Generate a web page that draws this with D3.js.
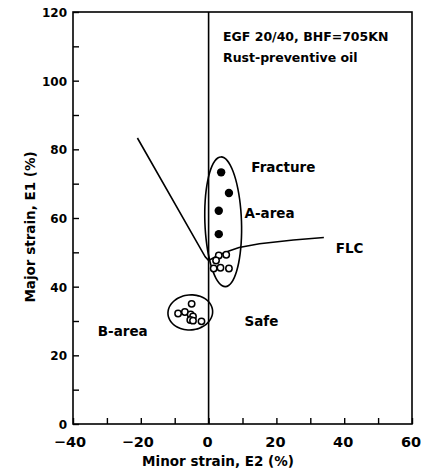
<!DOCTYPE html>
<html>
<head>
<meta charset="utf-8">
<script src="https://cdn.jsdelivr.net/npm/d3@7"></script>
<style>
  body { margin: 0; background: #fff; }
  text { font-family: "DejaVu Sans", sans-serif; font-weight: bold; fill: #000; }
</style>
</head>
<body>
<div id="chart"></div>
<script>
// data (minor strain E2 %, major strain E1 %)
var fractureE2 = [3.7, 6.0, 3.0, 3.0];
var fractureE1 = [73.3, 67.3, 62.1, 55.3];

var safeAE2 = [3.0, 5.2, 2.2, 1.5, 3.5, 6.0];
var safeAE1 = [49.1, 49.3, 47.6, 45.3, 45.5, 45.3];

var safeBE2 = [-9.0, -5.0, -7.0, -5.3, -4.6, -5.4, -4.6, -2.1];
var safeBE1 = [32.2, 35.0, 32.6, 31.9, 31.3, 30.3, 30.1, 29.9];

var flcE2 = [-21, -1, 0, 3, 6, 9, 15, 25, 34];
var flcE1 = [83.3, 48.7, 47.6, 49.2, 50.4, 51.4, 52.5, 53.6, 54.3];

// area outlines: centre, half widths (data units), tilt in degrees
var areaNames = ["A", "B"];
var areaCx = [4.3, -5.4];
var areaCy = [58.9, 32.5];
var areaRx = [5.4, 6.6];
var areaRy = [18.9, 5.1];
var areaTilt = [-2, -5];

var xTicks = [-40, -20, 0, 20, 40, 60];
var yTicks = [0, 20, 40, 60, 80, 100, 120];

var labelText = ["Fracture", "A-area", "FLC", "Safe", "B-area"];
var labelE2 = [12.6, 10.6, 37.5, 10.6, -32.7];
var labelE1 = [73.3, 60.0, 49.8, 28.4, 25.5];

const width = 424, height = 475;
const m_left = 73, m_right = 412, m_top = 12, m_bottom = 424;

var svg = d3.select("#chart").append("svg")
  .attr("width", width)
  .attr("height", height);

var x = d3.scaleLinear().domain([-40, 60]).range([m_left, m_right]);
var y = d3.scaleLinear().domain([0, 120]).range([m_bottom, m_top]);

// frame
svg.append("rect")
  .attr("x", m_left).attr("y", m_top)
  .attr("width", m_right - m_left).attr("height", m_bottom - m_top)
  .style("fill", "none").style("stroke", "#000").style("stroke-width", 1.6);

// inward ticks every 10, labels every 20
var xAxis = svg.append("g")
  .attr("transform", "translate(0," + m_bottom + ")")
  .call(d3.axisBottom(x).tickValues(d3.range(-40, 61, 10)).tickSize(-6).tickFormat(""));
xAxis.select(".domain").remove();
xAxis.selectAll("line").style("stroke-width", 1.4);

var yAxis = svg.append("g")
  .attr("transform", "translate(" + m_left + ",0)")
  .call(d3.axisLeft(y).tickValues(d3.range(0, 121, 10)).tickSize(-6).tickFormat(""));
yAxis.select(".domain").remove();
yAxis.selectAll("line").style("stroke-width", 1.4);

svg.selectAll(".xlab").data(xTicks).enter().append("text")
  .attr("x", d => x(d) - (d < 0 ? 3 : 1))
  .attr("y", 447)
  .attr("text-anchor", "middle")
  .style("font-size", "14.5px")
  .text(d => d < 0 ? "\u2212" + Math.abs(d) : d);

svg.selectAll(".ylab").data(yTicks).enter().append("text")
  .attr("x", m_left - 6)
  .attr("y", d => y(d) + 5)
  .attr("text-anchor", "end")
  .style("font-size", "12px")
  .text(d => d);

// axis titles
svg.append("text")
  .attr("x", 218).attr("y", 466)
  .attr("text-anchor", "middle")
  .style("font-size", "13.5px")
  .text("Minor strain, E2 (%)");

svg.append("text")
  .attr("transform", "translate(35," + y(57.4) + ") rotate(-90)")
  .attr("text-anchor", "middle")
  .style("font-size", "13.5px")
  .text("Major strain, E1 (%)");

// E2 = 0 line
svg.append("line")
  .attr("x1", x(0)).attr("x2", x(0))
  .attr("y1", m_top).attr("y2", m_bottom)
  .style("stroke", "#000").style("stroke-width", 1.6);

// forming limit curve
var line = d3.line().x(d => x(d[0])).y(d => y(d[1])).curve(d3.curveLinear);
svg.append("path")
  .attr("d", line(d3.zip(flcE2, flcE1)))
  .style("fill", "none").style("stroke", "#000").style("stroke-width", 1.6);

// area outlines
areaNames.forEach(function(n, i) {
  var pts = d3.range(0, 360, 10).map(function(a) {
    var t = a * Math.PI / 180;
    var px = x(areaCx[i]) + (x(areaRx[i]) - x(0)) * Math.cos(t);
    var py = y(areaCy[i]) + (y(0) - y(areaRy[i])) * Math.sin(t);
    return [px, py];
  });
  svg.append("path")
    .attr("d", d3.line().curve(d3.curveCardinalClosed)(pts))
    .attr("transform", "rotate(" + areaTilt[i] + "," + x(areaCx[i]) + "," + y(areaCy[i]) + ")")
    .style("fill", "none").style("stroke", "#000").style("stroke-width", 1.6);
});

// points
svg.selectAll(".open").data(d3.zip(safeAE2.concat(safeBE2), safeAE1.concat(safeBE1))).enter()
  .append("circle")
  .attr("cx", d => x(d[0])).attr("cy", d => y(d[1]))
  .attr("r", 3.2)
  .style("fill", "#fff").style("stroke", "#000").style("stroke-width", 1.5);

svg.selectAll(".filled").data(d3.zip(fractureE2, fractureE1)).enter()
  .append("circle")
  .attr("cx", d => x(d[0])).attr("cy", d => y(d[1]))
  .attr("r", 4.2)
  .style("fill", "#000");

// region labels
svg.selectAll(".lab").data(labelText).enter().append("text")
  .attr("x", (d, i) => x(labelE2[i]))
  .attr("y", (d, i) => y(labelE1[i]))
  .style("font-size", "13.5px")
  .text(d => d);

// test note
svg.append("text").attr("x", 223).attr("y", 41)
  .style("font-size", "12.5px").text("EGF 20/40, BHF=705KN");
svg.append("text").attr("x", 223).attr("y", 62)
  .style("font-size", "12.5px").text("Rust-preventive oil");
</script>
</body>
</html>
